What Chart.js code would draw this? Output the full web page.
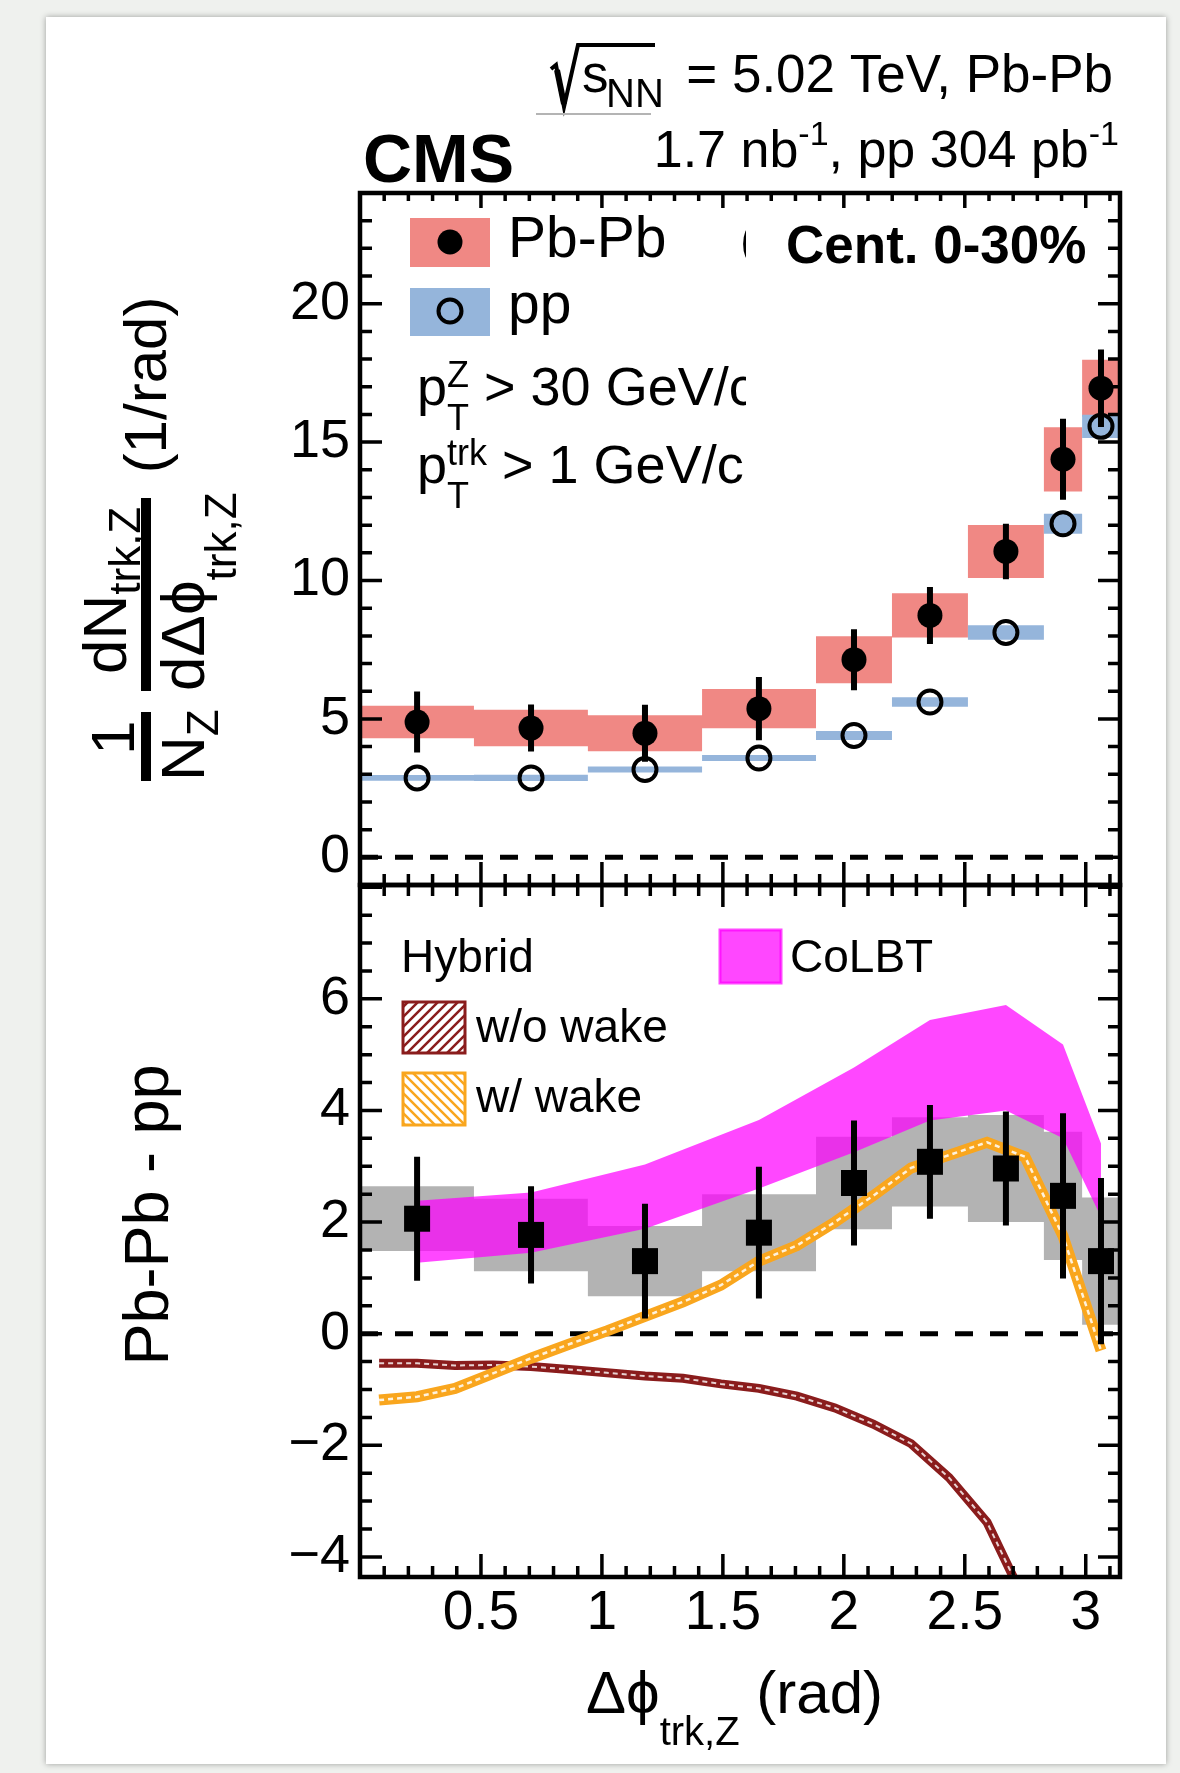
<!DOCTYPE html>
<html>
<head>
<meta charset="utf-8">
<title>CMS Z-track correlations, Pb-Pb vs pp</title>
<script src="https://cdn.jsdelivr.net/npm/chart.js@4.4.1/dist/chart.umd.min.js"></script>
<style>
  html, body { margin: 0; padding: 0; }
  body { width: 1180px; height: 1773px; background: #eff1ee; position: relative; overflow: hidden; }
  .card { position: absolute; left: 46px; top: 17px; width: 1120px; height: 1747px; background: #fff; box-shadow: 0 0 6px rgba(0,0,0,0.35); }
  canvas { position: absolute; left: 0; top: 0; }
</style>
</head>
<body>
<div class="card"></div>
<canvas id="topPanel" width="1180" height="1773"></canvas>
<canvas id="bottomPanel" width="1180" height="1773"></canvas>
<script>
const FONT = "'Liberation Sans', Arial, Helvetica, sans-serif";
const PHI = '\u03d5';

// delta phi bins (rad)
const binEdges   = [0, 0.471, 0.942, 1.414, 1.885, 2.199, 2.513, 2.827, 2.985, 3.1416];
const binCenters = [0.236, 0.707, 1.178, 1.649, 2.042, 2.356, 2.670, 2.906, 3.063];

// top panel: 1/N_Z dN/dDphi
const pbpbYield = [4.89, 4.67, 4.48, 5.37, 7.14, 8.74, 11.05, 14.38, 16.95];
const pbpbStat  = [1.10, 0.85, 1.03, 1.14, 1.10, 1.03, 1.00, 1.46, 1.40];
const pbpbSys   = [0.59, 0.66, 0.65, 0.71, 0.85, 0.80, 0.96, 1.16, 1.03];
const ppYield   = [2.87, 2.87, 3.17, 3.59, 4.40, 5.61, 8.12, 12.05, 15.57];
const ppSys     = [0.10, 0.11, 0.11, 0.11, 0.16, 0.17, 0.26, 0.36, 0.42];

// bottom panel: Pb-Pb - pp
const diffYield = [2.06, 1.77, 1.30, 1.81, 2.70, 3.08, 2.96, 2.47, 1.30];
const diffStat  = [1.11, 0.87, 1.03, 1.18, 1.12, 1.02, 1.02, 1.48, 1.49];
const diffSys   = [0.58, 0.65, 0.63, 0.69, 0.83, 0.80, 0.96, 1.15, 1.14];

// models
const colbtLow  = [1.27, 1.45, 1.88, 2.60, 3.25, 3.82, 4.00, 3.50, 2.09];
const colbtHigh = [2.38, 2.53, 3.03, 3.83, 4.77, 5.62, 5.89, 5.18, 3.41];
const hybridX = [0.079, 0.236, 0.393, 0.550, 0.707, 0.864, 1.021, 1.178, 1.335, 1.492,
                 1.649, 1.806, 1.963, 2.121, 2.278, 2.435, 2.592, 2.749, 2.906, 3.063];
const hybridNoWake = [-0.53, -0.53, -0.57, -0.56, -0.59, -0.64, -0.70, -0.76, -0.80, -0.90,
                      -0.98, -1.12, -1.33, -1.62, -1.97, -2.58, -3.38, -4.80];
const hybridWake   = [-1.19, -1.13, -0.98, -0.71, -0.44, -0.19, 0.05, 0.31, 0.57, 0.87,
                      1.30, 1.58, 2.00, 2.47, 2.97, 3.20, 3.43, 3.17, 1.75, -0.30];

const xTicks = [0.5, 1, 1.5, 2, 2.5, 3];
const topYTicks = [0, 5, 10, 15, 20];
const bottomYTicks = [-4, -2, 0, 2, 4, 6];

const PBPB_RED = '#f08884';
const PP_BLUE = '#95b5db';
const GRAY = 'rgba(128,128,128,0.6)';
const MAGENTA = 'rgba(255,0,255,0.72)';
const DARKRED = '#8a1c1c';
const ORANGE = '#f9a61e';

// stepped edge of the systematic boxes (one point per bin edge)
function boxEdge(vals, errs, sign) {
  return binEdges.map((e, i) => {
    const k = Math.min(i, vals.length - 1);
    return { x: e, y: vals[k] + sign * errs[k] };
  });
}
function errorBars(vals, errs) {
  const pts = [];
  binCenters.forEach((x, i) => {
    pts.push({ x, y: vals[i] - errs[i] }, { x, y: vals[i] + errs[i] }, { x, y: null });
  });
  return pts;
}
const pairs = (xs, ys) => ys.map((y, i) => ({ x: xs[i], y }));

function sysBoxes(vals, errs, color, order) {
  return [
    { data: boxEdge(vals, errs, -1), stepped: true, borderWidth: 0, borderColor: 'transparent', pointRadius: 0, fill: false, order },
    { data: boxEdge(vals, errs, 1), stepped: true, borderWidth: 0, borderColor: 'transparent', pointRadius: 0, fill: '-1', backgroundColor: color, order }
  ];
}
function zeroLine(order) {
  return { data: [{ x: 0, y: 0 }, { x: Math.PI, y: 0 }], borderColor: '#000', borderWidth: 5, borderDash: [18, 17], pointRadius: 0, fill: false, order };
}

// text helpers
function textRun(ctx, x, y, parts) {
  for (const p of parts) {
    if (p.sup !== undefined) {
      ctx.font = `${p.size}px ${FONT}`;
      ctx.fillText(p.sup, x, y + p.up);
      ctx.fillText(p.sub, x, y + p.down);
      x += Math.max(ctx.measureText(p.sup).width, ctx.measureText(p.sub).width);
      continue;
    }
    ctx.font = `${p.bold ? 'bold ' : ''}${p.size}px ${FONT}`;
    ctx.fillText(p.t, x, y + (p.dy || 0));
    x += ctx.measureText(p.t).width;
  }
  return x;
}
function runWidth(ctx, parts) {
  let w = 0;
  for (const p of parts) {
    ctx.font = `${p.bold ? 'bold ' : ''}${p.size}px ${FONT}`;
    w += ctx.measureText(p.t).width;
  }
  return w;
}
function rotated(ctx, x, y, fn) {
  ctx.save();
  ctx.translate(x, y);
  ctx.rotate(-Math.PI / 2);
  fn();
  ctx.restore();
}
function hatch(ctx, color, dir) {
  const c = document.createElement('canvas');
  c.width = c.height = 10;
  const g = c.getContext('2d');
  g.fillStyle = '#fff';
  g.fillRect(0, 0, 10, 10);
  g.strokeStyle = color;
  g.lineWidth = 2.5;
  g.beginPath();
  if (dir > 0) {
    g.moveTo(-2, 12); g.lineTo(12, -2);
    g.moveTo(-7, 7); g.lineTo(7, -7);
    g.moveTo(3, 17); g.lineTo(17, 3);
  } else {
    g.moveTo(-2, -2); g.lineTo(12, 12);
    g.moveTo(-7, 3); g.lineTo(7, 17);
    g.moveTo(3, -7); g.lineTo(17, 7);
  }
  g.stroke();
  return ctx.createPattern(c, 'repeat');
}

// ROOT-like frame with inward ticks on all four sides
function framePlugin(o) {
  return {
    id: 'frame',
    afterDraw(chart) {
      const { ctx, chartArea: a, scales: { x, y } } = chart;
      ctx.save();
      ctx.strokeStyle = '#000';
      ctx.lineWidth = 3.5;
      ctx.beginPath();
      for (let i = 1; i * 0.1 < x.max; i++) {
        const px = x.getPixelForValue(i * 0.1);
        const major = i % 5 === 0;
        const lb = major ? 23 : 11;
        const lt = major ? o.topMajor : o.topMinor;
        ctx.moveTo(px, a.bottom); ctx.lineTo(px, a.bottom - lb);
        ctx.moveTo(px, a.top); ctx.lineTo(px, a.top + lt);
      }
      const n0 = Math.ceil(y.min / o.yStep - 1e-9), n1 = Math.floor(y.max / o.yStep + 1e-9);
      for (let i = n0; i <= n1; i++) {
        const v = i * o.yStep;
        const py = y.getPixelForValue(v);
        const r = v / o.yMajor;
        const l = Math.abs(r - Math.round(r)) < 1e-6 ? 22 : 12;
        ctx.moveTo(a.left, py); ctx.lineTo(a.left + l, py);
        ctx.moveTo(a.right, py); ctx.lineTo(a.right - l, py);
      }
      ctx.stroke();
      ctx.lineWidth = 4.5;
      ctx.strokeRect(a.left, a.top, a.right - a.left, a.bottom - a.top);
      ctx.restore();
    }
  };
}

const topTexts = {
  id: 'topTexts',
  afterDraw(chart) {
    const ctx = chart.ctx;
    ctx.save();
    ctx.fillStyle = '#000';
    ctx.strokeStyle = '#000';
    ctx.textBaseline = 'alphabetic';

    // header
    ctx.lineWidth = 4;
    ctx.beginPath();
    ctx.moveTo(551, 69); ctx.lineTo(556, 65); ctx.lineTo(564, 107); ctx.lineTo(578, 45); ctx.lineTo(655, 45);
    ctx.stroke();
    ctx.lineWidth = 6;
    ctx.beginPath(); ctx.moveTo(557, 70); ctx.lineTo(564, 104); ctx.stroke();
    ctx.strokeStyle = '#b4b4b4';
    ctx.lineWidth = 2;
    ctx.beginPath(); ctx.moveTo(536, 114); ctx.lineTo(651, 114); ctx.stroke();
    textRun(ctx, 582, 92, [{ t: 's', size: 53 }]);
    textRun(ctx, 606, 107, [{ t: 'NN', size: 40 }]);
    ctx.textAlign = 'right';
    ctx.font = `53px ${FONT}`;
    ctx.fillText('= 5.02 TeV, Pb-Pb', 1113, 92);
    ctx.textAlign = 'left';
    const lumi = [
      { t: '1.7 nb', size: 52 }, { t: '-1', size: 34, dy: -22 },
      { t: ', pp 304 pb', size: 52 }, { t: '-1', size: 34, dy: -22 }
    ];
    textRun(ctx, 1119 - runWidth(ctx, lumi), 167, lumi);
    textRun(ctx, 363, 182, [{ t: 'CMS', size: 68, bold: true }]);

    // legend
    ctx.fillStyle = PBPB_RED;
    ctx.fillRect(410, 218, 80, 49);
    ctx.fillStyle = PP_BLUE;
    ctx.fillRect(410, 288, 80, 48);
    ctx.fillStyle = '#000';
    ctx.beginPath(); ctx.arc(450, 242, 12.5, 0, 2 * Math.PI); ctx.fill();
    ctx.strokeStyle = '#000';
    ctx.lineWidth = 4;
    ctx.beginPath(); ctx.arc(450, 311, 11.5, 0, 2 * Math.PI); ctx.stroke();
    textRun(ctx, 508, 257, [{ t: 'Pb-Pb', size: 57 }]);
    textRun(ctx, 508, 323, [{ t: 'pp', size: 57 }]);

    ctx.save();
    ctx.beginPath(); ctx.rect(380, 200, 366, 240); ctx.clip();
    textRun(ctx, 417, 405, [{ t: 'p', size: 54 }, { sup: 'Z', sub: 'T', size: 36, up: -18, down: 25 }, { t: ' > 30 GeV/c', size: 54 }]);
    textRun(ctx, 740, 257, [{ t: '(', size: 50 }]);
    ctx.restore();
    textRun(ctx, 417, 483, [{ t: 'p', size: 54 }, { sup: 'trk', sub: 'T', size: 36, up: -18, down: 25 }, { t: ' > 1 GeV/c', size: 54 }]);
    textRun(ctx, 786, 263, [{ t: 'Cent. 0-30%', size: 53, bold: true }]);
    ctx.fillRect(360, 191, 386, 3);

    // y title: 1/N_Z dN_trk,Z / dDphi_trk,Z (1/rad)
    ctx.fillRect(141, 712, 10, 69);
    ctx.fillRect(141, 498, 10, 193);
    rotated(ctx, 134, 755, () => textRun(ctx, 0, 0, [{ t: '1', size: 62 }]));
    rotated(ctx, 204, 781, () => textRun(ctx, 0, 0, [{ t: 'N', size: 62 }, { t: 'Z', size: 44, dy: 14 }]));
    rotated(ctx, 126, 674, () => textRun(ctx, 0, 0, [{ t: 'dN', size: 62 }, { t: 'trk,Z', size: 44, dy: 14 }]));
    rotated(ctx, 204, 691, () => textRun(ctx, 0, 0, [{ t: 'd\u0394' + PHI, size: 62 }, { t: 'trk,Z', size: 44, dy: 32 }]));
    ctx.font = `60px ${FONT}`;
    const rw = ctx.measureText('(1/rad)').width;
    rotated(ctx, 166, 385 + rw / 2, () => textRun(ctx, 0, 0, [{ t: '(1/rad)', size: 60 }]));
    ctx.restore();
  }
};

const bottomTexts = {
  id: 'bottomTexts',
  afterDraw(chart) {
    const ctx = chart.ctx;
    ctx.save();
    ctx.fillStyle = '#000';
    ctx.textBaseline = 'alphabetic';

    // legend
    textRun(ctx, 401, 972, [{ t: 'Hybrid', size: 46 }]);
    ctx.lineWidth = 3;
    ctx.fillStyle = hatch(ctx, DARKRED, 1);
    ctx.strokeStyle = DARKRED;
    ctx.fillRect(403, 1002, 62, 51); ctx.strokeRect(403, 1002, 62, 51);
    ctx.fillStyle = hatch(ctx, ORANGE, -1);
    ctx.strokeStyle = ORANGE;
    ctx.fillRect(403, 1073, 62, 52); ctx.strokeRect(403, 1073, 62, 52);
    ctx.fillStyle = MAGENTA;
    ctx.strokeStyle = MAGENTA;
    ctx.fillRect(720, 930, 61, 53); ctx.strokeRect(720, 930, 61, 53);
    ctx.fillStyle = '#000';
    textRun(ctx, 476, 1042, [{ t: 'w/o wake', size: 46 }]);
    textRun(ctx, 476, 1112, [{ t: 'w/ wake', size: 46 }]);
    textRun(ctx, 790, 972, [{ t: 'CoLBT', size: 46 }]);

    // y title
    ctx.font = `63px ${FONT}`;
    const w = ctx.measureText('Pb-Pb - pp').width;
    rotated(ctx, 168, 1215 + w / 2, () => textRun(ctx, 0, 0, [{ t: 'Pb-Pb - pp', size: 63 }]));

    // x title
    textRun(ctx, 586, 1713, [{ t: '\u0394' + PHI, size: 60 }, { t: 'trk,Z', size: 40, dy: 32 }, { t: ' (rad)', size: 60 }]);
    ctx.restore();
  }
};

Chart.defaults.font.family = FONT;
Chart.defaults.color = '#000';

const commonOptions = (padding, yMin, yMax, yTicks) => ({
  responsive: false,
  animation: false,
  devicePixelRatio: 1,
  events: [],
  layout: { padding },
  plugins: { legend: { display: false }, tooltip: { enabled: false } },
  elements: { line: { tension: 0 } },
  scales: {
    x: {
      type: 'linear', min: 0, max: Math.PI, display: false
    },
    y: {
      type: 'linear', min: yMin, max: yMax,
      afterFit: s => { s.width = 360; },
      afterBuildTicks: s => { s.ticks = yTicks.map(v => ({ value: v })); },
      grid: { display: false, drawTicks: false },
      border: { display: false },
      ticks: {
        padding: 10, color: '#000', font: { size: 54 },
        callback: v => (v < 0 ? '\u2212' + Math.abs(v) : String(v))
      }
    }
  }
});

// top panel
new Chart(document.getElementById('topPanel'), {
  type: 'line',
  data: {
    datasets: [
      ...sysBoxes(pbpbYield, pbpbSys, PBPB_RED, 10),
      ...sysBoxes(ppYield, ppSys, PP_BLUE, 9),
      zeroLine(8),
      { data: errorBars(pbpbYield, pbpbStat), borderColor: '#000', borderWidth: 6, pointRadius: 0, fill: false, spanGaps: false, order: 7 },
      { data: pairs(binCenters, ppYield), showLine: false, pointStyle: 'circle', pointRadius: 11.5, pointBorderWidth: 4,
        pointBorderColor: '#000', pointBackgroundColor: 'rgba(0,0,0,0)', order: 6 },
      { data: pairs(binCenters, pbpbYield), showLine: false, pointStyle: 'circle', pointRadius: 12.5, pointBorderWidth: 0,
        pointBackgroundColor: '#000', order: 5 }
    ]
  },
  options: commonOptions({ left: 0, right: 60, top: 193, bottom: 888 }, -1, 24, topYTicks),
  plugins: [framePlugin({ yStep: 1, yMajor: 5, topMajor: 15, topMinor: 8 }), topTexts]
});

// bottom panel
const bottomOptions = commonOptions({ left: 0, right: 60, top: 885, bottom: 116 }, -4.36, 8.04, bottomYTicks);
bottomOptions.scales.x = {
  type: 'linear', min: 0, max: Math.PI,
  afterFit: s => { s.height = 80; },
  afterBuildTicks: s => { s.ticks = xTicks.map(v => ({ value: v })); },
  grid: { display: false, drawTicks: false },
  border: { display: false },
  ticks: { padding: 4, color: '#000', font: { size: 55 }, maxRotation: 0, autoSkip: false, callback: v => String(v) }
};

new Chart(document.getElementById('bottomPanel'), {
  type: 'line',
  data: {
    datasets: [
      ...sysBoxes(diffYield, diffSys, GRAY, 20),
      { data: pairs(binCenters, colbtLow), borderWidth: 0, borderColor: 'transparent', pointRadius: 0, fill: false, order: 19 },
      { data: pairs(binCenters, colbtHigh), borderWidth: 0, borderColor: 'transparent', pointRadius: 0, fill: '-1', backgroundColor: MAGENTA, order: 19 },
      zeroLine(18),
      { data: pairs(hybridX, hybridNoWake), borderColor: DARKRED, borderWidth: 9, pointRadius: 0, fill: false, order: 17 },
      { data: pairs(hybridX, hybridNoWake), borderColor: 'rgba(255,255,255,0.8)', borderWidth: 2, borderDash: [5, 4], pointRadius: 0, fill: false, order: 16 },
      { data: pairs(hybridX, hybridWake), borderColor: ORANGE, borderWidth: 11, pointRadius: 0, fill: false, order: 15 },
      { data: pairs(hybridX, hybridWake), borderColor: 'rgba(255,255,255,0.85)', borderWidth: 2.5, borderDash: [5, 4], pointRadius: 0, fill: false, order: 14 },
      { data: errorBars(diffYield, diffStat), borderColor: '#000', borderWidth: 6, pointRadius: 0, fill: false, spanGaps: false, order: 13 },
      { data: pairs(binCenters, diffYield), showLine: false, pointStyle: 'rect', pointRadius: 18.4, pointBorderWidth: 0,
        pointBackgroundColor: '#000', order: 12 }
    ]
  },
  options: bottomOptions,
  plugins: [framePlugin({ yStep: 0.5, yMajor: 2, topMajor: 22, topMinor: 11 }), bottomTexts]
});
</script>
</body>
</html>
